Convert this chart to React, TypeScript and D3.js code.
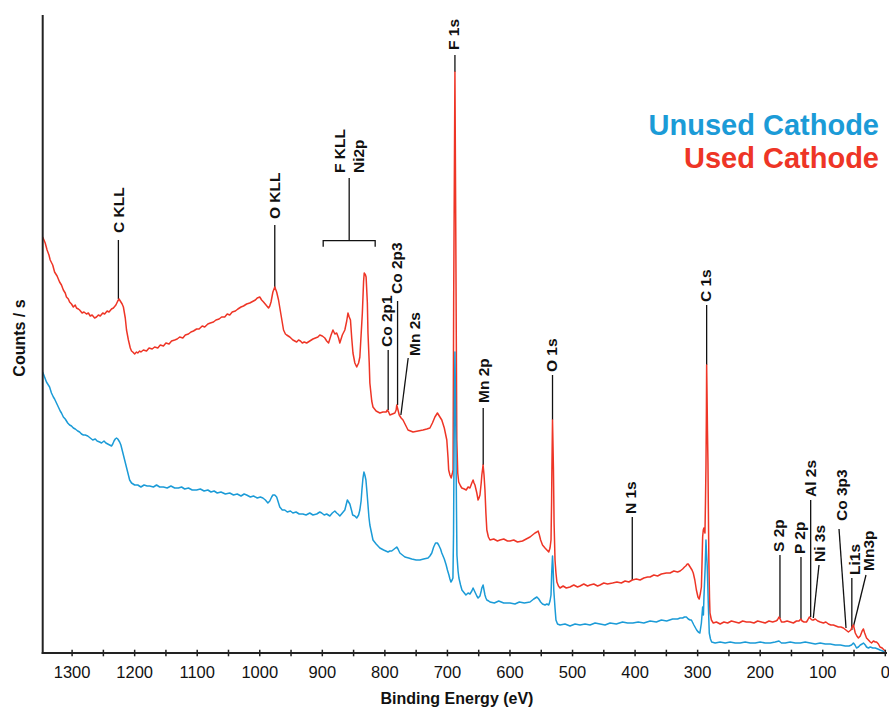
import React from "react";
import * as d3 from "d3";

// ---------- DATA (binding energy eV, counts in arbitrary units) ----------
const usedSpectrum: [number, number][] = [
  [1347,416],[1343,410],[1340,403],[1337,398],[1335,393],[1331,388],[1328,381],[1324,377],[1320,371],[1317,368],[1314,363],[1311,360],[1309,356],[1306,354],[1304,351],[1301,349],[1298,346],[1295,348],[1293,345],[1290,344],[1288,343],[1284,340],[1281,341],[1277,339],[1274,340],[1271,337],[1268,338],[1264,335],[1261,336],[1258,338],[1255,337],[1251,340],[1248,339],[1244,342],[1241,341],[1237,344],[1234,345],[1230,348],[1227,352],[1225,354],[1222,351],[1220,349],[1218,346],[1215,335],[1213,323],[1210,313],[1207,305],[1205,302],[1203,301],[1200,299],[1197,301],[1195,300],[1192,302],[1190,301],[1186,303],[1181,302],[1177,305],[1172,304],[1168,306],[1163,305],[1159,308],[1154,307],[1150,310],[1145,309],[1141,312],[1136,313],[1132,314],[1128,316],[1123,315],[1119,318],[1114,319],[1110,321],[1106,322],[1101,324],[1097,324],[1092,327],[1088,326],[1083,329],[1079,330],[1074,331],[1070,333],[1065,334],[1061,336],[1056,336],[1052,339],[1048,338],[1044,341],[1039,342],[1035,344],[1030,346],[1026,347],[1021,349],[1016,350],[1010,352],[1007,353],[1004,355],[1000,356],[997,353],[994,351],[990,348],[986,345],[984,347],[982,351],[979,361],[976,366],[973,361],[970,353],[966,338],[962,323],[959,319],[957,318],[952,316],[947,313],[944,312],[941,311],[938,313],[935,312],[932,310],[929,311],[925,310],[920,312],[915,314],[911,315],[907,316],[904,318],[900,317],[896,315],[893,312],[890,310],[886,318],[883,323],[880,319],[877,320],[874,315],[872,310],[868,318],[864,323],[861,332],[859,340],[857,336],[855,333],[853,315],[851,300],[848,290],[845,286],[842,290],[840,296],[838,318],[836,340],[834,372],[833,380],[831,378],[830,376],[828,350],[827,320],[825,290],[824,270],[821,252],[819,246],[814,242],[808,240],[803,241],[798,241],[796,243],[794,241],[792,238],[788,239],[784,240],[782,243],[781,248],[779,243],[777,238],[774,235],[771,233],[767,228],[763,223],[759,222],[755,221],[747,222],[739,223],[733,224],[728,225],[724,230],[720,236],[716,240],[712,236],[709,233],[705,225],[701,213],[699,195],[698,183],[696,178],[694,175],[692,180],[691,183],[690,353],[688,581],[686.5,403],[685,213],[683.5,180],[682,171],[679,167],[677,165],[673,164],[670,163],[667,166],[664,165],[661,170],[659,173],[657.5,170],[656,168],[653,160],[651,153],[649.5,155],[648,158],[646,170],[645,178],[643,188],[641.5,178],[640,163],[638.5,140],[637,123],[634.5,116],[632,113],[626,114],[620,112],[616,113],[610,114],[604,112],[600,112],[594,113],[588,111],[580,112],[574,114],[568,116],[564,118],[560,120],[557,121],[555,122],[553,118],[551,113],[548,108],[544,105],[541,103],[538,101],[536,105],[534.4,113],[533.5,150],[533,183],[532,233],[531,200],[530.5,183],[529.5,130],[528,93],[526.5,80],[525,71],[522.5,67],[520,65],[515,67],[510,65],[504,66],[498,68],[492,66],[488,67],[482,69],[476,67],[472,68],[466,69],[460,67],[456,68],[450,70],[444,69],[436,70],[429,71],[422,70],[416,72],[410,71],[404.5,73],[398,74],[392,73],[386,75],[380,76],[376,76],[370,78],[364,77],[358,79],[350,80],[344,80],[338,82],[332,81],[328,82],[324,84],[321,86],[319,87],[316.5,89],[315,89],[313,87],[311,85],[309,83],[307,80],[304.5,73],[302,63],[299.5,56],[297.5,54],[295.5,60],[294,66],[293,90],[292,116],[291,123],[290,125],[289,122],[288.3,120],[287.5,150],[286.7,186],[286,240],[285.6,288],[285,260],[284.3,223],[283.5,190],[283,153],[282,90],[281,55],[280.3,40],[278,33],[275,30],[270,31],[264,29],[258,31],[252,30],[246,32],[240,31],[234,30],[228,32],[222,31],[216,31],[210,30],[204,32],[198,31],[192,30],[186,32],[180,31],[175,32],[172.5,33],[170,36],[168,34],[166,31],[162,31],[157,32],[152,31],[147,30],[142,32],[138,32],[135,34],[133,32],[130,31],[126,31],[124,33],[121.5,36],[119,34],[117,33],[115,33],[112,34],[108,32],[104,31],[99,30],[95,31],[91,29],[87,28],[83,28],[79,27],[75,26],[71,26],[67,25],[63,23],[61,22],[59,21],[57,22],[55,23],[53,26],[51,28],[49.5,24],[48,20],[45.5,17],[43,15],[40,17],[37,22],[35,24],[33,20],[30,15],[27,13],[24,11],[22,10],[19,12],[16,11],[14,11],[11,9],[8.5,6],[5,5],[2,3],[0,2]
];

const unusedSpectrum: [number, number][] = [
  [1347,281],[1344,276],[1341,271],[1338,268],[1336,266],[1333,260],[1330,256],[1328,254],[1325,250],[1322,246],[1319,242],[1317,240],[1314,236],[1311,234],[1309,232],[1307,230],[1304,228],[1301,227],[1298,225],[1295,224],[1293,223],[1291,222],[1288,221],[1285,219],[1282,218],[1279,218],[1275,217],[1271,215],[1267,213],[1263,214],[1260,212],[1256,211],[1253,210],[1251,211],[1249,212],[1246,210],[1243,209],[1240,208],[1237,207],[1235,209],[1233,212],[1231,214],[1229,215],[1227,214],[1224,211],[1222,208],[1220,203],[1218,198],[1216,193],[1214,188],[1212,183],[1210,178],[1208,173],[1205,170],[1200,168],[1195,168],[1190,166],[1185,168],[1180,167],[1176,167],[1170,166],[1165,168],[1160,166],[1154,166],[1148,165],[1142,167],[1136,165],[1130,165],[1125,166],[1120,164],[1114,165],[1108,163],[1101,163],[1095,164],[1089,162],[1083,163],[1078,161],[1073,162],[1068,160],[1062,161],[1055,159],[1048,160],[1042,158],[1036,159],[1030,157],[1025,159],[1021,158],[1015,156],[1010,157],[1004,155],[999,156],[995,155],[991,153],[987,150],[984,152],[981,156],[979,158],[976,158],[973,156],[971,152],[968,146],[964,143],[960,143],[956,141],[951,142],[947,140],[942,141],[937,139],[931,139],[926,138],[920,140],[915,138],[909,139],[904,141],[901,140],[897,138],[893,139],[888,137],[884,140],[880,142],[877,140],[875,139],[872,137],[868,140],[864,143],[862,148],[860,153],[858,151],[856,149],[853,142],[851.5,138],[848,137],[845,135],[842,138],[840,143],[838,152],[836.7,163],[835,175],[833.5,181],[832,178],[830.3,173],[828.5,160],[827,148],[825.5,136],[824,128],[821,119],[819,113],[814,109],[808,105],[802,103],[795,101],[792,102],[789,102],[785,104],[781,106],[779,104],[776,100],[772,98],[768,96],[762,95],[757,94],[750,93],[744,93],[738,94],[731,95],[728,97],[725,100],[722,106],[719,110],[716,110],[714,108],[711,104],[709,100],[705,94],[702,88],[700,83],[697.6,78],[696,74],[694.4,71],[692.5,73],[691.2,75],[690.2,120],[689.6,183],[688.8,250],[688,301],[687.2,260],[686.4,213],[685.6,150],[684.8,98],[683,82],[681.6,75],[679,68],[676.8,63],[673,60],[670.4,58],[667,60],[664,59],[661,62],[659,65],[657.5,63],[656,61],[653,57],[651,55],[649.5,56],[648,57],[646,62],[645,65],[643,68],[641.5,63],[640,58],[638.5,55],[637,53],[634,52],[632,51],[625,50],[618,52],[610,50],[600,50],[592,49],[585,51],[577,50],[568,51],[562,54],[557,56],[554,54],[551,51],[548,49],[544,48],[541,49],[538,48],[536,52],[534.4,58],[533.3,80],[532,97],[531,85],[530,63],[528,45],[526.5,33],[524,29],[520,28],[512,29],[504,27],[496,29],[488,28],[480,29],[472,28],[464,30],[456,29],[448,28],[440,30],[430,29],[420,31],[412,30],[403.5,30],[395,31],[386,30],[376,32],[366,31],[358,33],[349.5,32],[340,34],[332,34],[328,35],[324,35],[321,36],[318,36],[315,34],[312,33],[310,33],[306,28],[301.6,23],[299,21],[296.4,20],[294,30],[292,46],[291.2,42],[290.8,38],[290.3,48],[289.9,56],[288,85],[286.7,113],[285.8,100],[284.6,86],[283,50],[281.4,20],[279.5,14],[277.6,11],[272,10],[264,11],[256,10],[248,11],[240,10],[232,10],[224,11],[216,10],[208,10],[200,11],[192,10],[184,10],[176,11],[170,12],[166,10],[160,10],[152,11],[144,10],[136,10],[128,11],[120,10],[112,9],[104,10],[96,9],[88,9],[80,8],[72,8],[64,7],[58,7],[54,8],[51,10],[48.5,8],[46,5],[43,6],[40,8],[37,9],[35,10],[32,8],[30,6],[27,5],[24,6],[20,5],[16,5],[12,4],[8.5,3],[4,2],[0.5,0]
];

const xTickValues = d3.range(0, 1301, 50);
const xLabelValues = d3.range(0, 1301, 100);

const peakLabels = ["C KLL", "O KLL", "Co 2p1", "Co 2p3", "Mn 2s", "F 1s", "Mn 2p", "O 1s", "N 1s", "C 1s", "S 2p", "P 2p", "Al 2s", "Ni 3s", "Co 3p3", "Li1s", "Mn3p"];
const peakEnergies = [1226, 976, 794.7, 779.7, 774.4, 688, 642.8, 532, 404.5, 285.6, 168.4, 134.8, 119.3, 115.1, 62.8, 53.5, 51.2];
const groupLabels = ["F KLL", "Ni2p"];
const groupRange = [898.6, 815.5];
const seriesNames = ["Unused Cathode", "Used Cathode"];

// ---------- LAYOUT ----------
const W = 889, H = 711;
const plotLeft = 42.7, plotRight = 885.3, plotTop = 15, plotBottom = 653;
const RED = "#ee3526";
const BLUE = "#1b9bd7";
const FONT = "'Liberation Sans', Arial, Helvetica, sans-serif";

// [lineTopY, lineBottomY, topDx, textDx, textBottomY]
const peakLayout: number[][] = [
  [240, 299, 0, 0, 233],
  [225, 288, 0, 0, 219],
  [350, 410, 0, -2, 347],
  [301, 405, 0, -1, 294],
  [358, 415, 7.3, 14, 356],
  [55, 72, 0, -1.5, 50],
  [408, 465, 0, 0, 403],
  [375, 420, 0, -1, 372],
  [517, 580, 0, -1.5, 514],
  [305, 365, 0, -1.5, 302],
  [555, 618, 0, -1.5, 552],
  [557, 619, 0, -1.5, 554],
  [500, 617, 0, 0, 497],
  [565, 618, 5.7, 6, 562],
  [529, 628, -7, -4.3, 521],
  [578, 630, 0, 2.5, 575],
  [575, 627, 12.7, 15, 571],
];

export default function App() {
  const x = d3.scaleLinear().domain([1347, 0]).range([plotLeft, plotRight]);
  const y = d3.scaleLinear().domain([0, 640]).range([plotBottom, plotBottom - 640]);
  const line = d3
    .line<[number, number]>()
    .x((d) => x(d[0]))
    .y((d) => y(d[1]))
    .curve(d3.curveLinear);

  const labelSize = 15.5;
  const capHalf = labelSize * 0.36;

  const bx0 = x(groupRange[0]);
  const bx1 = x(groupRange[1]);
  const bxc = (bx0 + bx1) / 2;

  return (
    <svg
      width={W}
      height={H}
      viewBox={`0 0 ${W} ${H}`}
      style={{ position: "absolute", left: 0, top: 0, background: "#fff" }}
      fontFamily={FONT}
    >
      <rect x={0} y={0} width={W} height={H} fill="#fff" />

      {/* annotation lines */}
      <g stroke="#111" strokeWidth={1.3} fill="none">
        {peakLabels.map((lab, i) => {
          const [t, b, tdx] = peakLayout[i];
          const xb = x(peakEnergies[i]);
          return <line key={lab} x1={xb + tdx} y1={t} x2={xb} y2={b} />;
        })}
        <path d={`M${bx0},246.7 V240.7 H${bx1} V246.7`} />
        <line x1={bxc} y1={178} x2={bxc} y2={240.7} />
      </g>

      {/* spectra */}
      <path d={line(usedSpectrum) || ""} fill="none" stroke={RED} strokeWidth={1.5} strokeLinejoin="round" />
      <path d={line(unusedSpectrum) || ""} fill="none" stroke={BLUE} strokeWidth={1.5} strokeLinejoin="round" />

      {/* peak labels */}
      <g fontSize={labelSize} fontWeight="bold" fill="#111">
        {peakLabels.map((lab, i) => {
          const [, , , tx, ty] = peakLayout[i];
          const cx = x(peakEnergies[i]) + tx;
          return (
            <text key={lab} transform={`translate(${cx + capHalf},${ty}) rotate(-90)`} textAnchor="start">
              {lab}
            </text>
          );
        })}
        <text transform={`translate(${bxc - 10 + capHalf},173) rotate(-90)`} textAnchor="start">
          {groupLabels[0]}
        </text>
        <text transform={`translate(${bxc + 9 + capHalf},173) rotate(-90)`} textAnchor="start">
          {groupLabels[1]}
        </text>
      </g>

      {/* axes */}
      <g stroke="#222" strokeWidth={2} fill="none">
        <line x1={plotLeft} y1={plotTop} x2={plotLeft} y2={plotBottom + 1} />
        <line x1={plotLeft - 1} y1={plotBottom} x2={887} y2={plotBottom} />
      </g>
      <g stroke="#222" strokeWidth={1.5}>
        {xTickValues.map((v) => (
          <line key={v} x1={x(v)} x2={x(v)} y1={plotBottom - 3.3} y2={plotBottom + 3.3} />
        ))}
      </g>
      <g fontSize={16.5} fill="#111" textAnchor="middle">
        {xLabelValues.map((v) => (
          <text key={v} x={x(v)} y={677.5}>
            {v}
          </text>
        ))}
      </g>
      <text x={457} y={704} fontSize={16} fontWeight="bold" textAnchor="middle" fill="#111">
        Binding Energy (eV)
      </text>
      <text transform="translate(25,338) rotate(-90)" fontSize={16} fontWeight="bold" textAnchor="middle" fill="#111">
        Counts / s
      </text>

      {/* legend */}
      <g fontSize={29} fontWeight="bold" textAnchor="end">
        <text x={879} y={135} fill={BLUE}>{seriesNames[0]}</text>
        <text x={879} y={168} fill={RED}>{seriesNames[1]}</text>
      </g>
    </svg>
  );
}
